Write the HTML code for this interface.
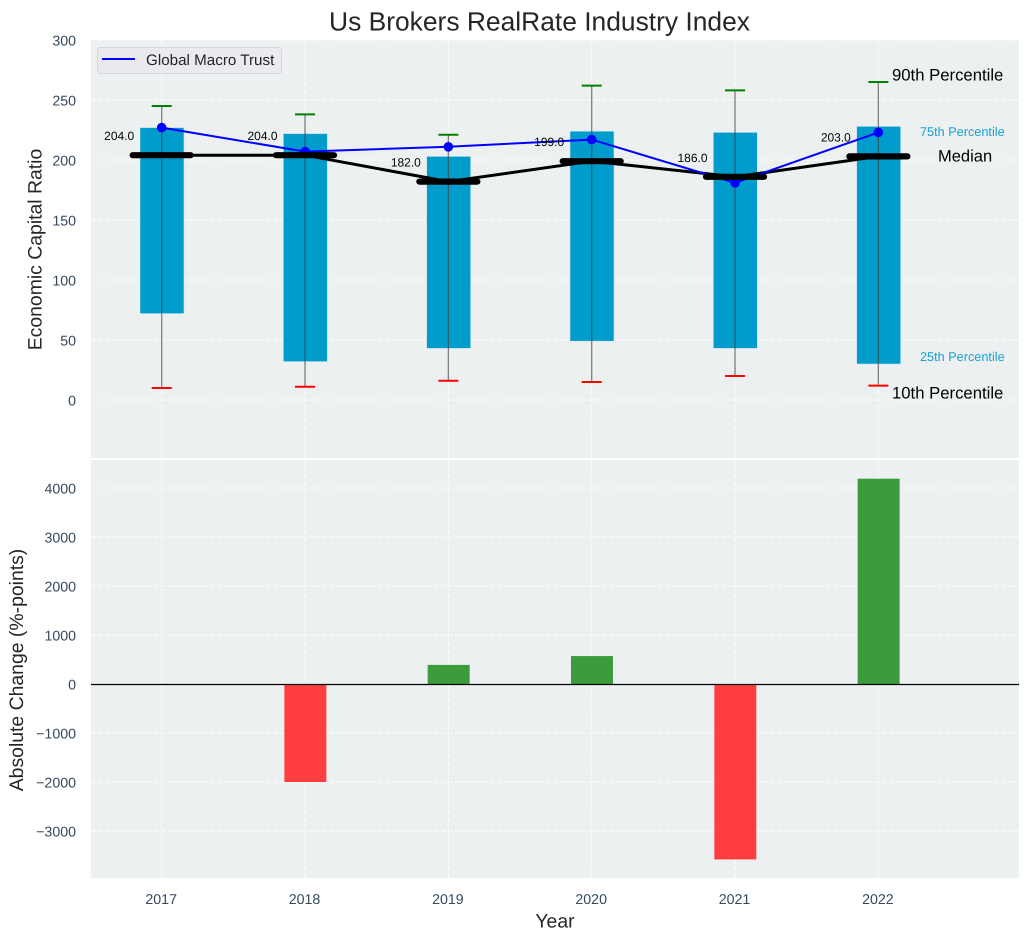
<!DOCTYPE html>
<html>
<head>
<meta charset="utf-8">
<title>Us Brokers RealRate Industry Index</title>
<style>
html,body{margin:0;padding:0;background:#fff;}
svg{display:block;font-family:"Liberation Sans",Arial,sans-serif;text-rendering:geometricPrecision;}
</style>
</head>
<body>
<svg id="chart" xmlns="http://www.w3.org/2000/svg" width="1029" height="940" viewBox="0 0 1029 940">
<rect x="0" y="0" width="1029" height="940" fill="#ffffff"/>
<text x="539.5" y="30.5" font-size="26.4" text-anchor="middle" fill="#262626">Us Brokers RealRate Industry Index</text>
<rect x="91" y="40" width="928" height="418" fill="#ecf0f1"/>
<rect x="91" y="460" width="928" height="418" fill="#ecf0f1"/>
<g id="grid"></g>
<g id="boxes"></g>
<g id="whiskers"></g>
<g id="medians"></g>
<g id="trust"></g>
<g id="median-caps"></g>
<g id="changes"></g>
<line x1="91" x2="1019" y1="684.5" y2="684.5" stroke="#000" stroke-width="1.3"/>
<g id="ticks" font-size="14.2" fill="#34495e"></g>
<text transform="translate(41.5,249.5) rotate(-90)" font-size="19.4" text-anchor="middle" fill="#262626">Economic Capital Ratio</text>
<text transform="translate(23,670) rotate(-90)" font-size="19.4" text-anchor="middle" fill="#262626">Absolute Change (%-points)</text>
<text x="555" y="927.5" font-size="19.4" text-anchor="middle" fill="#262626">Year</text>
<g>
<rect x="97.5" y="47.5" width="184" height="26" rx="3" fill="#eaeaf0" stroke="#d5d8dc" stroke-width="1"/>
<line x1="102" x2="135" y1="59" y2="59" stroke="#0000ff" stroke-width="2"/>
<text x="146" y="65" font-size="15.2" fill="#262626">Global Macro Trust</text>
</g>
<g>
<text x="892" y="80.5" font-size="16.7" fill="#000">90th Percentile</text>
<text x="920" y="136" font-size="12.7" fill="#1a9fd0">75th Percentile</text>
<text x="938" y="161.5" font-size="16.5" fill="#000">Median</text>
<text x="920" y="361" font-size="12.7" fill="#1a9fd0">25th Percentile</text>
<text x="892" y="398.5" font-size="16.7" fill="#000">10th Percentile</text>
</g>
</svg>
<script>
const years = ["2017", "2018", "2019", "2020", "2021", "2022"];
const p10 = [10, 11, 16, 15, 20, 12];
const p25 = [72, 32, 43, 49, 43, 30];
const median = [204, 204, 182, 199, 186, 203];
const p75 = [227, 222, 203, 224, 223, 228];
const p90 = [245, 238, 221, 262, 258, 265];
const trust = [227, 207, 211, 217, 181, 223];
const change = [0, -2000, 390, 570, -3580, 4190];
const topTicks = [0, 50, 100, 150, 200, 250, 300];
const bottomTicks = [-3000, -2000, -1000, 0, 1000, 2000, 3000, 4000];

const NS = "http://www.w3.org/2000/svg";
const xAt = i => 161.7 + i * 143.33;
const yTop = v => 400 - v * 1.2;
const yBottom = v => 684 - v * 0.049;

function add(parent, tag, attrs, text) {
  const el = document.createElementNS(NS, tag);
  for (const k in attrs) el.setAttribute(k, attrs[k]);
  if (text !== undefined) el.textContent = text;
  document.getElementById(parent).appendChild(el);
  return el;
}
const gridStyle = {stroke: "#ffffff", "stroke-width": 1, "stroke-dasharray": "5 2", opacity: 0.9};

topTicks.forEach(t => {
  const line = add("grid", "line", Object.assign({x1: 91, x2: 1019, y1: yTop(t), y2: yTop(t)}, gridStyle));
  
  
  const label = add("ticks", "text", {x: 76, y: yTop(t) + 5.5, "text-anchor": "end"}, String(t));
  
  
});
bottomTicks.forEach(t => {
  const line = add("grid", "line", Object.assign({x1: 91, x2: 1019, y1: yBottom(t), y2: yBottom(t)}, gridStyle));
  
  
  const label = add("ticks", "text", {x: 76, y: yBottom(t) + 5.5, "text-anchor": "end"}, String(t).replace("-", "\u2212"));
  
  
});

years.forEach((yr, i) => {
  const x = xAt(i);
  const g1 = add("grid", "line", Object.assign({x1: x, x2: x, y1: 40, y2: 458}, gridStyle));
  
  
  const g2 = add("grid", "line", Object.assign({x1: x, x2: x, y1: 460, y2: 878}, gridStyle));
  
  
  const tick = add("ticks", "text", {x: x - 0.5, y: 904, "text-anchor": "middle"}, yr);
  
  

  const box = add("boxes", "rect", {x: x - 21.7, y: yTop(p75[i]), width: 44, height: yTop(p25[i]) - yTop(p75[i]), fill: "#009ccc", stroke: "#cfe6ee", "stroke-width": 0.6});
  
  

  const stem = add("whiskers", "line", {x1: x, x2: x, y1: yTop(p90[i]), y2: yTop(p10[i]), stroke: "#3f3f3f", "stroke-width": 1.3, opacity: 0.65});
  
  
  const capHigh = add("whiskers", "line", {x1: x - 10, x2: x + 10, y1: yTop(p90[i]), y2: yTop(p90[i]), stroke: "#008000", "stroke-width": 2});
  
  
  const capLow = add("whiskers", "line", {x1: x - 10, x2: x + 10, y1: yTop(p10[i]), y2: yTop(p10[i]), stroke: "#ff0000", "stroke-width": 2});
  
  

  const cv = change[i];
  if (cv !== 0) {
    const y0 = yBottom(Math.max(cv, 0));
    const y1 = yBottom(Math.min(cv, 0));
    const bar = add("changes", "rect", {x: x - 20.7, y: y0, width: 42, height: y1 - y0, fill: cv > 0 ? "#3c9c3c" : "#ff3f3f"});
    
    
  }
});

const medianLine = add("medians", "polyline", {points: median.map((v, i) => xAt(i) + "," + yTop(v)).join(" "), fill: "none", stroke: "#000", "stroke-width": 3});



const trustLine = add("trust", "polyline", {points: trust.map((v, i) => xAt(i) + "," + yTop(v)).join(" "), fill: "none", stroke: "#0000ff", "stroke-width": 2});


trust.forEach((v, i) => {
  const dot = add("trust", "circle", {cx: xAt(i), cy: yTop(v), r: 4.8, fill: "#0000ff"});
  
  
});

median.forEach((v, i) => {
  const x = xAt(i);
  const cap = add("median-caps", "line", {x1: x - 29, x2: x + 29, y1: yTop(v), y2: yTop(v), stroke: "#000", "stroke-width": 6.2, "stroke-linecap": "round"});
  
  
  const label = add("median-caps", "text", {x: x - 27.5, y: yTop(v) - 15, "font-size": 12, "text-anchor": "end", fill: "#000"}, v.toFixed(1));
  
  
});
</script>
</body>
</html>
